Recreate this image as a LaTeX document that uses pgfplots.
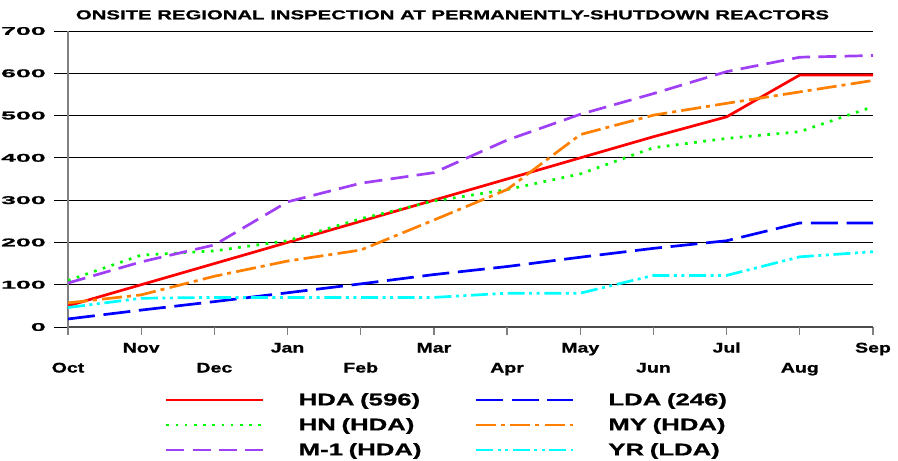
\documentclass[border=0pt]{standalone}
\usepackage{fontspec}
\usepackage{pgfplots}
\pgfplotsset{compat=1.18}
\newfontfamily\titlefont[FakeStretch=1.57,FakeBold=1]{Liberation Sans}
\newfontfamily\numfont[FakeStretch=2.4,FakeBold=1]{Liberation Sans}
\newfontfamily\monfont[FakeStretch=1.4,FakeBold=1]{Liberation Sans}
\newfontfamily\legfont[FakeStretch=1.52,FakeBold=1]{Liberation Sans}
\definecolor{cHDA}{RGB}{255,0,0}
\definecolor{cLDA}{RGB}{0,0,255}
\definecolor{cHN}{RGB}{0,250,0}
\definecolor{cMY}{RGB}{255,128,0}
\definecolor{cM}{RGB}{160,64,245}
\definecolor{cYR}{RGB}{0,255,255}
\begin{document}
\begin{tikzpicture}
\useasboundingbox (-68bp,-134bp) rectangle (830bp,327bp);
\begin{axis}[
  at={(0,0)}, anchor=south west,
  scale only axis, width=805bp, height=296bp,
  xmin=0, xmax=11, ymin=0, ymax=700,
  axis lines=left, axis line style={-},
  x axis line style={black!70, line width=1.1bp},
  y axis line style={gray, line width=1.2bp},
  ytick={0,100,...,700},
  ymajorgrids, major grid style={black, line width=0.9bp},
  tick align=outside,
  major tick length=14bp,
  ytick style={black, line width=0.9bp},
  y tick label style={font=\numfont\bfseries\fontsize{11.2}{12}\selectfont, anchor=east, inner sep=0pt, xshift=-8bp},
  /pgf/number format/assume math mode=true,
  xtick={1,3,5,7,9,11}, xticklabels={Nov,Jan,Mar,May,Jul,Sep},
  xtick style={/pgfplots/major tick length=8bp, gray, line width=1.2bp},
  x tick label style={font=\monfont\bfseries\fontsize{14}{14}\selectfont, anchor=base, inner sep=0pt, yshift=-11.5bp},
  extra x ticks={0,2,4,6,8,10},
  extra x tick labels={Oct,Dec,Feb,Apr,Jun,Aug},
  extra x tick style={xmajorgrids=false, major tick length=17bp, x tick label style={yshift=-17bp}},
  title={ONSITE REGIONAL INSPECTION AT PERMANENTLY-SHUTDOWN REACTORS},
  every axis title/.style={at={(0.4776,1)}, anchor=base, yshift=11.7bp, inner sep=0pt, font=\titlefont\bfseries\fontsize{13}{13}\selectfont},
  legend columns=2,
  legend cell align=left,
  legend style={at={(0.1205,-0.2044)}, anchor=north west, draw=none, fill=none, inner sep=0pt, outer sep=0pt, row sep=0pt,
    font=\legfont\bfseries\fontsize{17}{17}\selectfont,
    nodes={inner sep=0pt, minimum height=25bp, text width=176bp, align=left, anchor=west},
    /tikz/column 1/.style={column sep=34bp},
    /tikz/column 3/.style={column sep=34bp},
    /tikz/column 2/.style={column sep=0pt}},
  legend image code/.code={\draw[#1] (0bp,0bp) -- (97bp,0bp);},
  every axis plot/.append style={line width=2.7bp, line join=round},
]
\addplot[cHDA] coordinates {(0,50)(1,100)(2,150)(3,200)(4,250)(5,300)(6,350)(7,400)(8,450)(9,497)(10,596)(11,596)};
\addlegendentry{HDA (596)}
\addplot[cLDA, dash pattern=on 27bp off 8.7bp] coordinates {(0,19)(1,40)(2,60)(3,81)(4,102)(5,124)(6,143)(7,165)(8,186)(9,204)(10,246)(11,246)};
\addlegendentry{LDA (246)}
\addplot[cHN, dash pattern=on 2.7bp off 6.5bp] coordinates {(0,110)(1,170)(2,180)(3,204)(4,256)(5,298)(6,325)(7,362)(8,424)(9,446)(10,462)(11,521)};
\addlegendentry{HN (HDA)}
\addplot[cMY, dash pattern=on 20bp off 5bp on 4bp off 5.3bp] coordinates {(0,57)(1,76)(2,120)(3,156)(4,182)(5,253)(6,325)(7,455)(8,501)(9,529)(10,556)(11,583)};
\addlegendentry{MY (HDA)}
\addplot[cM, dash pattern=on 18bp off 8.3bp] coordinates {(0,104)(1,154)(2,194)(3,296)(4,340)(5,365)(6,442)(7,503)(8,552)(9,604)(10,638)(11,642)};
\addlegendentry{M-1 (HDA)}
\addplot[cYR, dash pattern=on 17bp off 4.5bp on 3bp off 4.5bp on 3bp off 4.7bp] coordinates {(0,46)(1,68)(2,70)(3,70)(4,70)(5,70)(6,80)(7,80)(8,122)(9,122)(10,166)(11,178)};
\addlegendentry{YR (LDA)}
\end{axis}
\end{tikzpicture}
\end{document}
